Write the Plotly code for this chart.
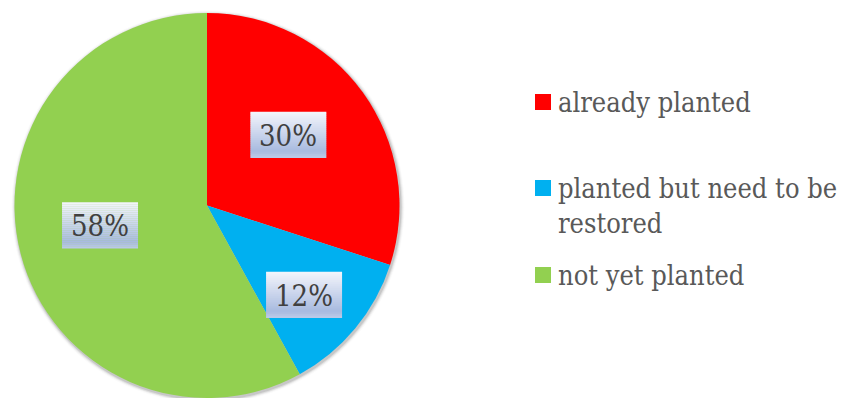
import math
import plotly.graph_objects as go

# ---- data -------------------------------------------------------------
categories = ["already planted", "planted but need to be<br>restored", "not yet planted"]
shares = [30, 12, 58]
slice_colors = ["#FF0000", "#00B0F0", "#92D050"]

# ---- layout constants (pixels) ----------------------------------------
W, H = 842, 398
CX, CY, R = 207.0, 205.5, 192.5          # pie centre and radius
SERIF = "DejaVu Serif Condensed, DejaVu Serif"
LABEL_FONT = dict(family=SERIF, size=29, color="#404040")
LEGEND_FONT = dict(family=SERIF, size=27, color="#595959")
# label placement inside each slice: (radial fraction, angular nudge in degrees)
LABEL_PLACE = [(0.56, -5.0), (0.685, 3.0), (0.565, 4.0)]
BOX_W, BOX_H = 76, 46
LEGEND_X = 535
LEGEND_Y = [102, 188, 275]
SWATCH = 16


def px(x):
    return x / W


def py(y):
    return 1 - y / H


def mix(c1, c2, t):
    a = [int(c1[i:i + 2], 16) for i in (1, 3, 5)]
    b = [int(c2[i:i + 2], 16) for i in (1, 3, 5)]
    return "#" + "".join(f"{round(a[k] + (b[k] - a[k]) * t):02x}" for k in range(3))


fig = go.Figure(
    go.Pie(
        labels=categories,
        values=shares,
        marker=dict(colors=slice_colors, line=dict(width=0)),
        sort=False,
        direction="clockwise",
        rotation=0,
        textinfo="none",
        hoverinfo="label+percent",
        showlegend=False,
        domain=dict(x=[px(CX - R), px(CX + R)], y=[py(CY + R), py(CY - R)]),
    )
)

shapes = []
annotations = []

# soft drop shadow around the disc
for i, alpha in enumerate([0.10, 0.07, 0.04, 0.02]):
    rr = R + 1 + i
    shapes.append(dict(
        type="circle", xref="paper", yref="paper", layer="below",
        x0=px(CX + 1 - rr), x1=px(CX + 1 + rr), y0=py(CY + 1.5 + rr), y1=py(CY + 1.5 - rr),
        fillcolor=f"rgba(0,0,0,{alpha})", line=dict(width=0),
    ))

# percentage labels with a gradient box, placed from the slice angles
total = sum(shares)
start = 0.0
for v, (frac, nudge) in zip(shares, LABEL_PLACE):
    sweep = 360.0 * v / total
    mid = math.radians(start + sweep / 2 + nudge)
    start += sweep
    lx = CX + frac * R * math.sin(mid)
    ly = CY - frac * R * math.cos(mid)
    n = 23
    for k in range(n):
        t = k / (n - 1)
        col = mix("#F2F4FB", "#A8BADF", min(t / 0.88, 1.0)) if t <= 0.88 else mix("#A8BADF", "#BAC8E7", (t - 0.88) / 0.12)
        y0 = ly - BOX_H / 2 + k * BOX_H / n
        shapes.append(dict(
            type="rect", xref="paper", yref="paper", layer="above",
            x0=px(lx - BOX_W / 2), x1=px(lx + BOX_W / 2),
            y0=py(y0 + BOX_H / n + 0.3), y1=py(y0),
            fillcolor=col, line=dict(width=0),
        ))
    annotations.append(dict(
        x=px(lx), y=py(ly + 1), xref="paper", yref="paper",
        text=f"{round(100 * v / total)}%", showarrow=False,
        xanchor="center", yanchor="middle", font=LABEL_FONT,
    ))

# legend: coloured squares and category names
line_h = 1.3 * LEGEND_FONT["size"]
for name, col, yc in zip(categories, slice_colors, LEGEND_Y):
    shapes.append(dict(
        type="rect", xref="paper", yref="paper", layer="above",
        x0=px(LEGEND_X), x1=px(LEGEND_X + SWATCH),
        y0=py(yc + SWATCH / 2), y1=py(yc - SWATCH / 2),
        fillcolor=col, line=dict(width=0),
    ))
    lines = name.count("<br>") + 1
    annotations.append(dict(
        x=px(LEGEND_X + 21), y=py(yc + (lines - 1) * line_h / 2),
        xref="paper", yref="paper", text=name, showarrow=False,
        xanchor="left", yanchor="middle", align="left", font=LEGEND_FONT,
    ))

fig.update_layout(
    width=W, height=H,
    margin=dict(l=0, r=0, t=0, b=0),
    font=dict(family=SERIF),
    paper_bgcolor="white", plot_bgcolor="white",
    shapes=shapes, annotations=annotations,
)

fig.write_html("out.html")
